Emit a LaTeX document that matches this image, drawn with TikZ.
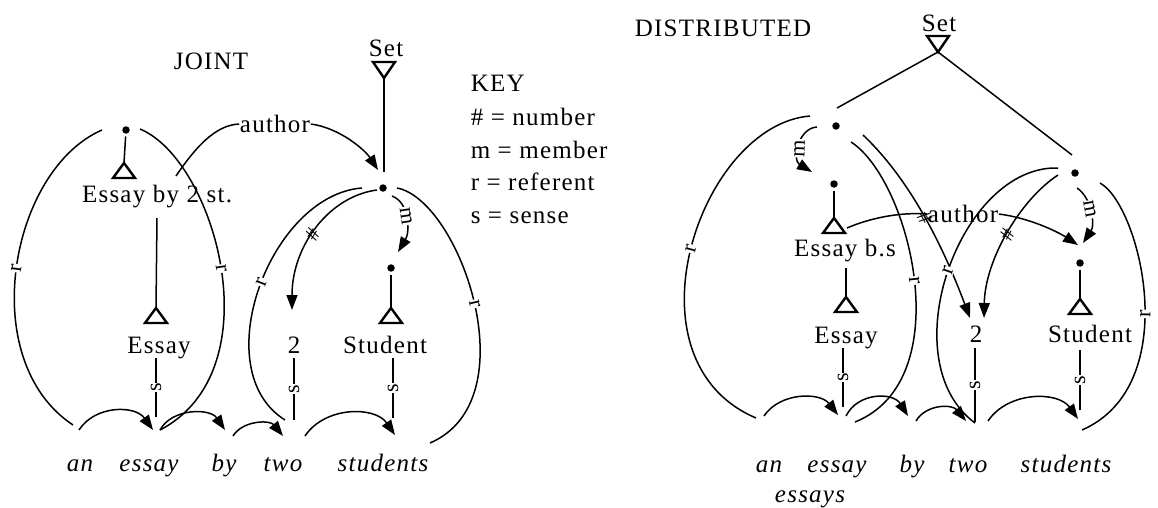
\documentclass[tikz,border=0pt]{standalone}
\usepackage{fontspec}
\setmainfont{Liberation Serif}[LetterSpace=5]
\usetikzlibrary{arrows.meta}
\newcommand\mytriup[2]{\draw[tri] ({#1-11},{#2+15}) -- (#1,#2) -- ({#1+11},{#2+15}) -- cycle;}
\begin{document}
\begin{tikzpicture}[x=1pt,y=-1pt,line width=1.5pt,
  txt/.style={font=\fontsize{25}{30}\selectfont, inner sep=0pt, anchor=base},
  wd/.style={font=\fontsize{25}{30}\selectfont\itshape, inner sep=0pt, anchor=base},
  lbl/.style={font=\fontsize{22}{24}\selectfont, fill=white, inner sep=0.6pt, sloped},
  hash/.style={font=\fontsize{21}{22}\selectfont, inner sep=0pt, sloped},
  slab/.style={font=\fontsize{22}{24}\selectfont, fill=white, inner sep=0.6pt, rotate=90},
  dotn/.style={circle, fill, inner sep=0pt, minimum size=7.5pt},
  tri/.style={line width=2.4pt, line join=miter},
  arr/.style={-{Triangle[length=15pt,width=11pt]}},
  authl/.style={font=\fontsize{25}{30}\selectfont, inner sep=0pt}
]
\useasboundingbox (0,0) rectangle (1158,508);

% ================= LEFT: JOINT =================
\node[txt] (joint) at (211,70) {JOINT};
\node[txt] (setL) at (386,57) {Set};
\draw[tri] (373,62) -- (395,62) -- (384,78) -- cycle;
\coordinate (setLa) at (384,78);
\coordinate (setLe) at (384,172);
\draw (setLa) -- (setLe);

% KEY
\node[txt, anchor=base west] (key) at (470,92) {KEY};
\node[txt, anchor=base west] (k1) at (470,125) {\# = number};
\node[txt, anchor=base west] (k2) at (470,158) {m = member};
\node[txt, anchor=base west] (k3) at (470,190) {r = referent};
\node[txt, anchor=base west] (k4) at (470,223) {s = sense};

% nodes
\node[dotn] (n0) at (126,130) {};
\node[dotn] (n1) at (383,188) {};
\node[dotn] (n2) at (391,268) {};

\coordinate (t0) at (124,163);
\draw[shorten <=2pt] (n0) -- (t0);
\mytriup{124}{163}
\node[txt] (ebs) at (157,202) {Essay by 2 st.};
\coordinate (ebsd) at (157,218);
\coordinate (t1) at (156,308);
\draw (ebsd) -- (t1);
\mytriup{156}{308}
\node[txt] (essL) at (159,353) {Essay};
\node[txt] (twoL) at (294,353) {2};
\node[txt] (stuL) at (385,353) {Student};
\coordinate (t2) at (391,308);
\draw[shorten <=2pt] (n2) -- (t2);
\mytriup{391}{308}

% s lines
\coordinate (sLa1) at (156,358); \coordinate (sLa2) at (156,417);
\draw (sLa1) -- node[slab]{s} (sLa2);
\coordinate (sLb1) at (294,358); \coordinate (sLb2) at (294,420);
\draw (sLb1) -- node[slab]{s} (sLb2);
\coordinate (sLc1) at (393,358); \coordinate (sLc2) at (393,418);
\draw (sLc1) -- node[slab]{s} (sLc2);

% author (left)
\node[authl] (authL) at (275,124) {author};
\coordinate (aL0) at (176,176);
\coordinate (aL1) at (378,170);
\draw (aL0) .. controls (195,148) and (215,125) .. (authL.west);
\draw[arr] (authL.east) .. controls (340,128) and (365,150) .. (aL1);

% m and # from n1
\coordinate (mL0) at (392,196);
\coordinate (mL1) at (398,252);
\draw[arr] (mL0) .. controls (410,203) and (410,232) .. node[lbl,pos=0.45]{m} (mL1);
\coordinate (hL0) at (377,190);
\coordinate (hL1) at (292,310);
\draw[arr] (hL0) .. controls (330,196) and (292,245) .. node[hash,pos=0.55]{\#} (hL1);

% r arcs (left lens)
\coordinate (rLa) at (102,130); \coordinate (rLb) at (73,425);
\draw (rLa) .. controls (10,170) and (-25,360) .. node[lbl,pos=0.5]{r} (rLb);
\coordinate (rLc) at (140,129); \coordinate (rLd) at (160,430);
\draw (rLc) .. controls (215,160) and (275,370) .. node[lbl,pos=0.5]{r} (rLd);
% r arcs (right lens)
\coordinate (rLe) at (362,188); \coordinate (rLf) at (285,420);
\draw (rLe) .. controls (270,195) and (205,370) .. node[lbl,pos=0.48]{r} (rLf);
\coordinate (rLg) at (397,188); \coordinate (rLh) at (430,443);
\draw (rLg) .. controls (460,200) and (530,400) .. node[lbl,pos=0.5]{r} (rLh);

% word arcs
\coordinate (wa1) at (79,430); \coordinate (wa2) at (153,430);
\draw[arr] (wa1) .. controls (95,405) and (135,405) .. (wa2);
\coordinate (wb1) at (160,430); \coordinate (wb2) at (225,430);
\draw[arr] (wb1) .. controls (172,408) and (210,408) .. (wb2);
\coordinate (wc1) at (233,436); \coordinate (wc2) at (283,436);
\draw[arr] (wc1) .. controls (243,420) and (270,420) .. (wc2);
\coordinate (wd1) at (305,436); \coordinate (wd2) at (395,435);
\draw[arr] (wd1) .. controls (325,406) and (375,406) .. (wd2);

% words
\node[wd] (w1) at (80,471) {an};
\node[wd] (w2) at (149,471) {essay};
\node[wd] (w3) at (224,471) {by};
\node[wd] (w4) at (283,471) {two};
\node[wd] (w5) at (383,471) {students};

% ================= RIGHT: DISTRIBUTED =================
\node[txt] (dist) at (723,37) {DISTRIBUTED};
\node[txt] (setR) at (939,32) {Set};
\draw[tri] (927,36) -- (949,36) -- (938,52) -- cycle;
\coordinate (setRa) at (938,52);
\coordinate (setRl) at (837,108);
\coordinate (setRr) at (1072,155);
\draw (setRa) -- (setRl);
\draw (setRa) -- (setRr);

\node[dotn] (na) at (836,126) {};
\node[dotn] (nb) at (1075,173) {};
\node[dotn] (na2) at (834,184) {};
\node[dotn] (nb2) at (1080,263) {};

% m from na
\coordinate (mA0) at (817,127); \coordinate (mA1) at (812,172);
\draw[arr] (mA0) .. controls (798,128) and (792,160) .. node[lbl,pos=0.55]{m} (mA1);

\coordinate (t3) at (834,218);
\draw[shorten <=2pt] (na2) -- (t3);
\mytriup{834}{218}
\node[txt] (ebsR) at (845,256) {Essay b.s};
\coordinate (ebsRd) at (846,268);
\coordinate (t4) at (846,297);
\draw (ebsRd) -- (t4);
\mytriup{846}{297}
\node[txt] (essR) at (846,343) {Essay};
\node[txt] (twoR) at (976,342) {2};
\node[txt] (stuR) at (1090,342) {Student};
\coordinate (t5) at (1080,299);
\draw[shorten <=2pt] (nb2) -- (t5);
\mytriup{1080}{299}

% s lines
\coordinate (sRa1) at (843,348); \coordinate (sRa2) at (843,407);
\draw (sRa1) -- node[slab]{s} (sRa2);
\coordinate (sRb1) at (975,348); \coordinate (sRb2) at (975,422);
\draw (sRb1) -- node[slab]{s} (sRb2);
\coordinate (sRc1) at (1080,350); \coordinate (sRc2) at (1080,410);
\draw (sRc1) -- node[slab]{s} (sRc2);

% author (right)
\node[authl] (authR) at (963,214) {author};
\coordinate (aR0) at (847,228);
\coordinate (aR1) at (1078,245);
\draw (aR0) .. controls (870,218) and (900,212) .. (authR.west);
\draw[arr] (authR.east) .. controls (1030,218) and (1058,232) .. (aR1);

% # arcs
\coordinate (hA0) at (863,135); \coordinate (hA1) at (970,318);
\draw[arr] (hA0) .. controls (900,170) and (935,225) .. node[hash,pos=0.57]{\#} (hA1);
\coordinate (hB0) at (1058,175); \coordinate (hB1) at (984,318);
\draw[arr] (hB0) .. controls (1020,200) and (985,260) .. node[hash,pos=0.5]{\#} (hB1);

% m from nb
\coordinate (mB0) at (1077,188); \coordinate (mB1) at (1083,243);
\draw[arr] (mB0) .. controls (1092,198) and (1095,225) .. node[lbl,pos=0.45]{m} (mB1);

% r arcs
\coordinate (rRa) at (810,116); \coordinate (rRb) at (756,418);
\draw (rRa) .. controls (700,125) and (620,360) .. node[lbl,pos=0.5]{r} (rRb);
\coordinate (rRc) at (851,142); \coordinate (rRd) at (855,422);
\draw (rRc) .. controls (910,180) and (960,380) .. node[lbl,pos=0.5]{r} (rRd);
\coordinate (rRe) at (1058,168); \coordinate (rRf) at (975,423);
\draw (rRe) .. controls (960,165) and (890,360) .. node[lbl,pos=0.5]{r} (rRf);
\coordinate (rRg) at (1100,183); \coordinate (rRh) at (1082,430);
\draw (rRg) .. controls (1140,205) and (1185,385) .. node[lbl,pos=0.55]{r} (rRh);

% word arcs
\coordinate (xa1) at (764,416); \coordinate (xa2) at (838,415);
\draw[arr] (xa1) .. controls (780,392) and (820,392) .. (xa2);
\coordinate (xb1) at (846,416); \coordinate (xb2) at (908,416);
\draw[arr] (xb1) .. controls (858,392) and (893,392) .. (xb2);
\coordinate (xc1) at (916,421); \coordinate (xc2) at (966,421);
\draw[arr] (xc1) .. controls (926,404) and (952,404) .. (xc2);
\coordinate (xd1) at (988,421); \coordinate (xd2) at (1078,419);
\draw[arr] (xd1) .. controls (1008,391) and (1058,391) .. (xd2);

% words
\node[wd] (v1) at (769,472) {an};
\node[wd] (v2) at (837,472) {essay};
\node[wd] (v3) at (912,472) {by};
\node[wd] (v4) at (968,472) {two};
\node[wd] (v5) at (1066,472) {students};
\node[wd] (v6) at (810,502) {essays};
\end{tikzpicture}
\end{document}
